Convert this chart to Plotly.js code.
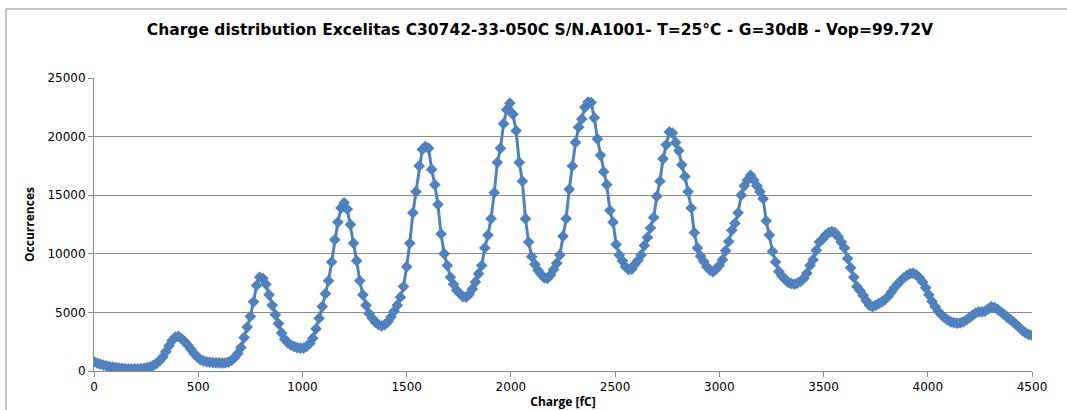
<!DOCTYPE html>
<html>
<head>
<meta charset="utf-8">
<script src="https://cdn.plot.ly/plotly-3.0.1.min.js"></script>
<style>html,body{margin:0;padding:0;background:#fff;}#chart{width:1067px;height:410px;}</style>
</head>
<body>
<div id="chart"></div>
<script>
const chartTitle = "Charge distribution Excelitas C30742-33-050C S/N.A1001- T=25°C - G=30dB - Vop=99.72V";
const xTitle = "Charge [fC]";
const yTitle = "Occurrences";

const charge = [
0,15,30,45,60,75,90,105,120,135,150,165,180,195,210,225,240,255,270,285,
300,315,330,345,360,375,390,405,420,435,450,465,480,495,510,525,540,555,570,585,
600,615,630,645,660,675,690,705,720,735,750,765,780,795,810,825,840,855,870,885,
900,915,930,945,960,975,990,1005,1020,1035,1050,1065,1080,1095,1110,1125,1140,1155,1170,1185,
1200,1215,1230,1245,1260,1275,1290,1305,1320,1335,1350,1365,1380,1395,1410,1425,1440,1455,1470,1485,
1500,1515,1530,1545,1560,1575,1590,1605,1620,1635,1650,1665,1680,1695,1710,1725,1740,1755,1770,1785,
1800,1815,1830,1845,1860,1875,1890,1905,1920,1935,1950,1965,1980,1995,2010,2025,2040,2055,2070,2085,
2100,2115,2130,2145,2160,2175,2190,2205,2220,2235,2250,2265,2280,2295,2310,2325,2340,2355,2370,2385,
2400,2415,2430,2445,2460,2475,2490,2505,2520,2535,2550,2565,2580,2595,2610,2625,2640,2655,2670,2685,
2700,2715,2730,2745,2760,2775,2790,2805,2820,2835,2850,2865,2880,2895,2910,2925,2940,2955,2970,2985,
3000,3015,3030,3045,3060,3075,3090,3105,3120,3135,3150,3165,3180,3195,3210,3225,3240,3255,3270,3285,
3300,3315,3330,3345,3360,3375,3390,3405,3420,3435,3450,3465,3480,3495,3510,3525,3540,3555,3570,3585,
3600,3615,3630,3645,3660,3675,3690,3705,3720,3735,3750,3765,3780,3795,3810,3825,3840,3855,3870,3885,
3900,3915,3930,3945,3960,3975,3990,4005,4020,4035,4050,4065,4080,4095,4110,4125,4140,4155,4170,4185,
4200,4215,4230,4245,4260,4275,4290,4305,4320,4335,4350,4365,4380,4395,4410,4425,4440,4455,4470,4485,
4500
];

const occurrences = [
780,680,590,510,440,380,330,290,255,225,205,190,180,175,180,195,225,280,360,480,
650,880,1200,1650,2150,2600,2900,2950,2750,2500,2200,1850,1500,1200,980,860,790,750,720,700,
690,680,700,760,900,1150,1500,2000,2850,3750,4650,5900,7300,8000,7900,7400,6500,5600,4800,4050,
3250,2700,2400,2200,2080,2000,1950,1960,2100,2350,2800,3600,4500,5500,6600,7700,9300,11200,12700,13900,
14350,13800,12500,10900,9400,7700,6500,5600,4900,4500,4150,3950,3850,3950,4200,4600,5100,5600,6300,7200,
8900,10900,13500,15300,17500,18900,19150,19000,17200,15900,14200,11700,10000,9000,8000,7400,6900,6600,6350,6300,
6550,7000,7600,8300,9000,10500,11600,13000,15200,17800,19000,21100,22300,22850,21900,20500,17800,16200,13000,11000,
9750,9100,8600,8250,7950,7900,8200,8650,9200,9900,11500,13000,15500,17500,19500,20800,21500,22500,22950,22900,
21600,19800,18400,17000,15900,13700,12700,10800,9900,9400,8900,8650,8700,9100,9450,9900,10700,11400,12200,13100,
14900,16200,18100,19300,20400,20300,19500,18800,17600,16600,15300,13900,11800,10500,9800,9350,8900,8600,8470,8700,
9000,9500,10250,11050,12000,12600,13500,15000,15800,16300,16700,16300,15800,15300,14700,12800,11600,10200,9300,8500,
8100,7850,7550,7450,7400,7500,7650,7900,8350,9000,9500,10300,11000,11250,11600,11800,11900,11800,11450,11000,
10500,9600,8800,8000,7200,6850,6450,6000,5600,5500,5600,5750,5900,6100,6350,6750,7100,7400,7700,7950,
8150,8300,8350,8200,7950,7600,7100,6500,5950,5500,5100,4800,4550,4350,4200,4120,4080,4100,4200,4350,
4550,4750,4950,5050,5050,5100,5300,5480,5400,5250,5050,4850,4600,4400,4200,3950,3700,3450,3250,3100,
3050
];

const xTicks = [0,500,1000,1500,2000,2500,3000,3500,4000,4500];
const yTicks = [0,5000,10000,15000,20000,25000];

const blue = "#4F81BD";
const grid = "#8c8c8c";

const trace = {
  x: charge,
  y: occurrences,
  type: "scatter",
  mode: "lines+markers",
  line: {color: blue, width: 3},
  marker: {symbol: "diamond", size: 9, color: blue},
  hoverinfo: "x+y",
  showlegend: false
};

const layout = {
  width: 1067,
  height: 410,
  paper_bgcolor: "#ffffff",
  plot_bgcolor: "#ffffff",
  margin: {l: 94, r: 35, t: 78, b: 39, autoexpand: false},
  title: {
    text: chartTitle,
    font: {family: "DejaVu Sans, sans-serif", size: 15.5, color: "#000000", weight: "bold"},
    x: 0.506, xanchor: "center", xref: "container",
    y: 0.927, yanchor: "middle", yref: "container"
  },
  xaxis: {
    range: [0, 4500],
    tickvals: xTicks,
    ticktext: xTicks.map(String),
    showgrid: false,
    zeroline: false,
    showline: true,
    linecolor: grid,
    linewidth: 1,
    ticks: "outside",
    ticklen: 5,
    tickcolor: grid,
    tickfont: {family: "DejaVu Sans, sans-serif", size: 12, color: "#000"},
    title: {text: xTitle, standoff: 17, font: {family: "Open Sans, sans-serif", size: 12, color: "#000", weight: "bold"}},
    automargin: false,
    fixedrange: true
  },
  yaxis: {
    range: [0, 25000],
    tickvals: yTicks,
    ticktext: yTicks.map(String),
    showgrid: true,
    gridcolor: grid,
    gridwidth: 1,
    zeroline: false,
    showline: true,
    linecolor: grid,
    linewidth: 1,
    ticks: "outside",
    ticklen: 5,
    tickcolor: grid,
    tickfont: {family: "DejaVu Sans, sans-serif", size: 12, color: "#000"},
    title: {text: yTitle, standoff: 10, font: {family: "Open Sans, sans-serif", size: 12, color: "#000", weight: "bold"}},
    automargin: false,
    fixedrange: true
  },
  shapes: [{
    type: "rect", xref: "paper", yref: "paper",
    x0: -0.0938, x1: 1.2, y0: -0.3, y1: 1.2355,
    line: {color: "#8a8a8a", width: 1}, fillcolor: "rgba(0,0,0,0)", layer: "below"
  }]
};

Plotly.newPlot("chart", [trace], layout, {displayModeBar: false, staticPlot: true});
</script>
</body>
</html>
